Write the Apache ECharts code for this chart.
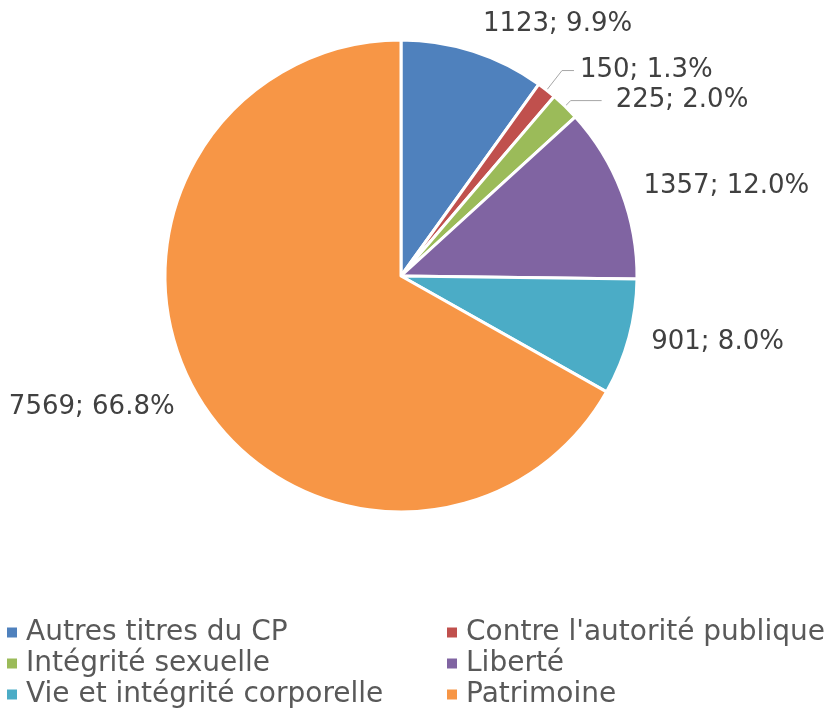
<!DOCTYPE html>
<html>
<head>
<meta charset="utf-8">
<script src="https://cdn.jsdelivr.net/npm/echarts@6/dist/echarts.min.js"></script>
<style>
  html, body { margin: 0; padding: 0; background: #fff; }
  #chart { width: 831px; height: 711px; }
</style>
</head>
<body>
<div id="chart"></div>
<script>
const categories = ["Autres titres du CP", "Contre l'autorité publique", "Intégrité sexuelle", "Liberté", "Vie et intégrité corporelle", "Patrimoine"];
const values = [1123, 150, 225, 1357, 901, 7569];
const colors = ["#4F81BD", "#C0504D", "#9BBB59", "#8064A2", "#4BACC6", "#F79646"];
const legendColumn1 = ["Autres titres du CP", "Intégrité sexuelle", "Vie et intégrité corporelle"];
const legendColumn2 = ["Contre l'autorité publique", "Liberté", "Patrimoine"];

const total = values.reduce((a, b) => a + b, 0);

// per-slice label placement tweaks (leader line lengths / offsets)
const labelTweaks = [
  { len: 28, len2: 0, dist: 1, show: false, pad: [0, 0, 0, 0] },
  { len: 25, len2: 12, dist: 6, show: true, pad: [0, 0, 15, 0] },
  { len: 8, len2: 31, dist: 14, show: true, pad: [0, 0, 14, 0] },
  { len: 17, len2: 0, dist: 6, show: false, pad: [0, 0, 0, 0] },
  { len: 20, len2: 0, dist: 3, show: false, pad: [12, 0, 0, 0] },
  { len: 25, len2: 0, dist: 1, show: false, pad: [12, 0, 0, 0] }
];

const data = categories.map((name, i) => ({
  name: name,
  value: values[i],
  itemStyle: { color: colors[i] },
  label: { distanceToLabelLine: labelTweaks[i].dist, padding: labelTweaks[i].pad },
  labelLine: { show: labelTweaks[i].show, length: labelTweaks[i].len, length2: labelTweaks[i].len2 }
}));

const font = "'DejaVu Sans', Verdana, sans-serif";
const chart = echarts.init(document.getElementById('chart'), null, { renderer: 'canvas' });

const legendBase = {
  orient: 'vertical',
  top: 617,
  padding: 0,
  itemGap: 0,
  itemWidth: 10,
  itemHeight: 10,
  icon: 'rect',
  selectedMode: false,
  itemStyle: { borderWidth: 0 },
  textStyle: {
    fontFamily: font,
    fontSize: 28,
    lineHeight: 31,
    color: '#595959',
    padding: [0, 0, 0, 4]
  }
};

chart.setOption({
  animation: false,
  backgroundColor: '#ffffff',
  legend: [
    Object.assign({}, legendBase, { left: 7, data: legendColumn1 }),
    Object.assign({}, legendBase, { left: 447, data: legendColumn2 })
  ],
  series: [{
    type: 'pie',
    center: [401, 276],
    radius: 236,
    startAngle: 90,
    clockwise: true,
    avoidLabelOverlap: false,
    emphasis: { disabled: true },
    itemStyle: { borderColor: '#ffffff', borderWidth: 3 },
    label: {
      show: true,
      position: 'outside',
      fontFamily: font,
      fontSize: 26,
      color: '#404040',
      formatter: p => p.value + '; ' + (p.value / total * 100).toFixed(1) + '%'
    },
    labelLine: {
      lineStyle: { color: '#A6A6A6', width: 1 },
      smooth: false
    },
    data: data
  }]
});
</script>
</body>
</html>
